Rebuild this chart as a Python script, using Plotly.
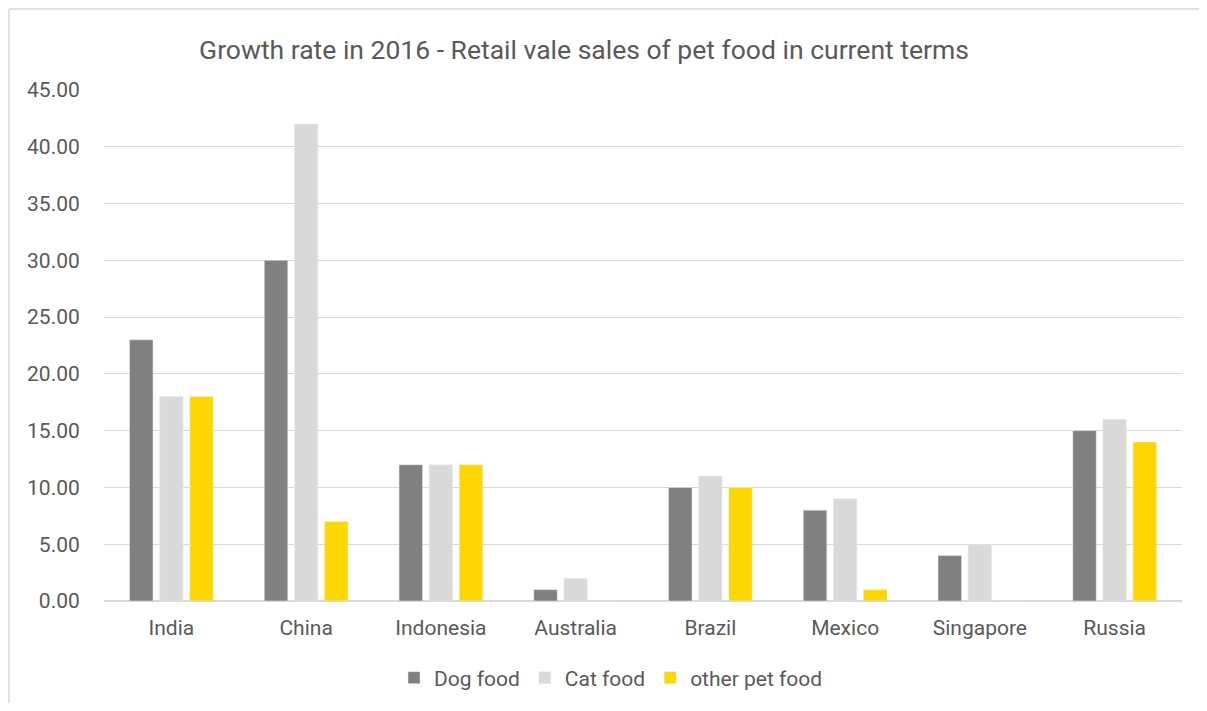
import plotly.graph_objects as go

categories = ["India", "China", "Indonesia", "Australia", "Brazil", "Mexico", "Singapore", "Russia"]
dog_food = [23, 30, 12, 1, 10, 8, 4, 15]
cat_food = [18, 42, 12, 2, 11, 9, 5, 16]
other_pet_food = [18, 7, 12, 0, 10, 1, 0, 14]
y_ticks = [0, 5, 10, 15, 20, 25, 30, 35, 40, 45]

# page body has an 8px margin on every side; keep the figure inside the viewport
OFF = 8
W, H = 1207 - 2 * OFF, 711 - 2 * OFF
PL, PR, PT, PB = 104, 1182, 90, 601  # plot area in screen pixels
L, T = PL - OFF, PT - OFF
R = W - (PR - OFF)
B = H - (PB - OFF)
pw, ph = PR - PL, PB - PT

def px_x(p):
    return (p - PL) / pw

def px_y(p):
    return (PB - p) / ph

font_family = "Roboto, 'Open Sans', sans-serif"
txt = "#595959"

fig = go.Figure()
fig.add_trace(go.Bar(name="Dog food", x=categories, y=dog_food, marker_color="#808080"))
fig.add_trace(go.Bar(name="Cat food", x=categories, y=cat_food, marker_color="#D9D9D9"))
fig.add_trace(go.Bar(name="other pet food", x=categories, y=other_pet_food, marker_color="#FFD700"))

fig.update_layout(
    width=W, height=H,
    margin=dict(l=L, r=R, t=T, b=B, autoexpand=False),
    paper_bgcolor="white", plot_bgcolor="white",
    barmode="group", bargap=0.33, bargroupgap=0.22,
    font=dict(family=font_family, color=txt, size=21),
    title=dict(text="Growth rate in 2016 - Retail vale sales of pet food in current terms",
               x=(584 - OFF) / W, xanchor="center", xref="container",
               y=1 - (50 - OFF) / H, yanchor="middle", yref="container",
               font=dict(size=26.5, color=txt, family=font_family)),
    legend=dict(orientation="h", x=px_x(611), xanchor="center", y=px_y(678), yanchor="middle",
                font=dict(size=21, color=txt), itemwidth=30, traceorder="normal"),
    showlegend=True,
)
fig.update_yaxes(range=[0, 45], tickvals=y_ticks, tickformat=".2f",
                 showgrid=True, gridcolor="#D9D9D9", gridwidth=1,
                 zeroline=True, zerolinecolor="#D9D9D9", zerolinewidth=1.5,
                 showline=False, ticks="outside", ticklen=19, tickcolor="rgba(0,0,0,0)",
                 tickfont=dict(size=21, color=txt), fixedrange=True)
fig.update_xaxes(showgrid=False, showline=False, ticks="outside", ticklen=8,
                 tickcolor="rgba(0,0,0,0)", tickfont=dict(size=21, color=txt))

border = dict(color="#D9D9D9", width=1.5)
fig.add_shape(type="line", xref="paper", yref="paper",
              x0=px_x(9), x1=px_x(1260), y0=px_y(9), y1=px_y(9), line=border, layer="below")
fig.add_shape(type="line", xref="paper", yref="paper",
              x0=px_x(9), x1=px_x(9), y0=px_y(9), y1=px_y(780), line=border, layer="below")

fig.write_html("out.html")
